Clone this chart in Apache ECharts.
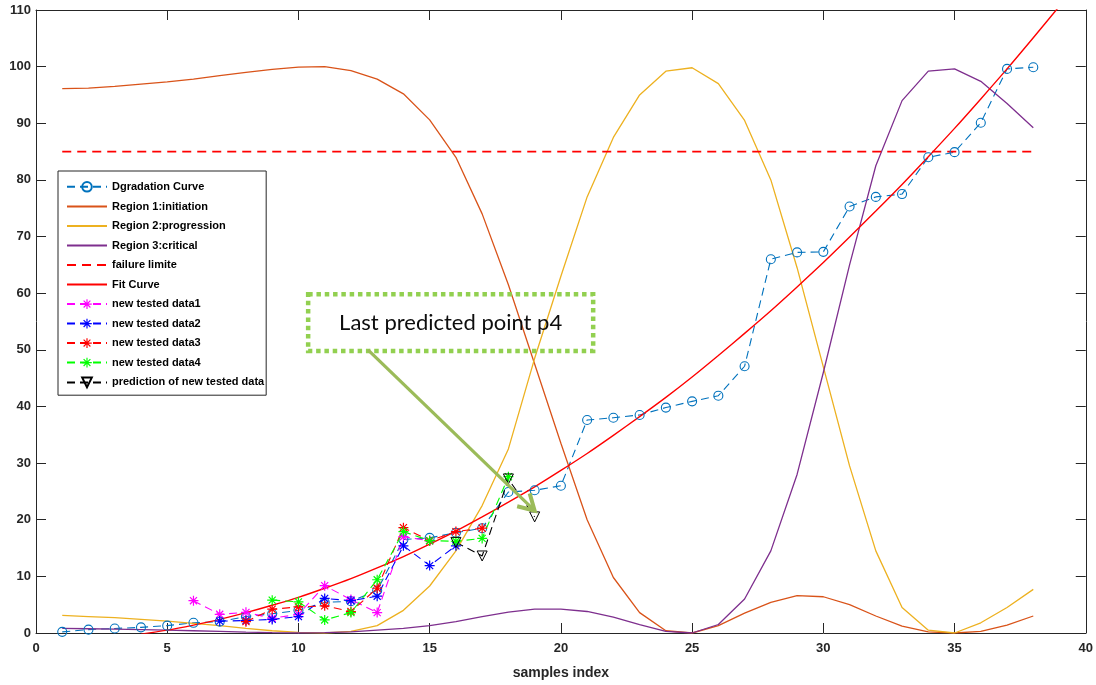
<!DOCTYPE html>
<html><head><meta charset="utf-8">
<script src="https://cdn.jsdelivr.net/npm/echarts@6/dist/echarts.min.js"></script>
<style>html,body{margin:0;padding:0;background:#fff}#c{width:1096px;height:685px}</style>
</head><body><div id="c"></div>
<script>
// ---------------- data ----------------
const sampleIndex = [1,2,3,4,5,6,7,8,9,10,11,12,13,14,15,16,17,18,19,20,21,22,23,24,25,26,27,28,29,30,31,32,33,34,35,36,37,38];
const degradation = [0.2,0.6,0.8,1.0,1.3,1.8,2.0,2.9,3.4,4.0,5.4,5.6,7.5,16.5,16.8,17.7,18.5,24.9,25.2,26.0,37.6,38.0,38.5,39.8,40.9,41.9,47.1,66.0,67.2,67.3,75.3,77.0,77.5,84.0,84.9,90.1,99.6,99.9];
const region1 = [96.1,96.2,96.5,96.9,97.3,97.8,98.4,99.0,99.5,99.9,100.0,99.3,97.8,95.2,90.6,84.0,74.0,61.5,47.5,33.5,20.0,9.8,3.6,0.4,0.0,1.3,3.5,5.4,6.6,6.4,5.0,3.0,1.2,0.2,0.0,0.3,1.4,3.0];
const region2 = [3.1,2.9,2.7,2.4,2.1,1.7,1.3,0.8,0.4,0.1,0.0,0.3,1.3,4.0,8.3,14.5,22.5,32.5,48.5,63.0,77.0,87.5,95.0,99.2,99.8,97.0,90.5,80.0,64.5,47.0,29.5,14.5,4.5,0.5,0.0,1.8,4.5,7.7];
const region3 = [0.8,0.75,0.7,0.6,0.5,0.4,0.3,0.15,0.05,0.0,0.05,0.2,0.5,0.8,1.3,2.0,2.9,3.7,4.2,4.2,3.8,2.8,1.5,0.3,0.0,1.5,6.0,14.5,28.0,46.0,65.0,82.5,94.0,99.2,99.6,97.4,93.5,89.2];
const failureLimit = 85;
const fitX = [4,5,6,7,8,9,10,11,12,13,14,15,16,17,18,19,20,21,22,23,24,25,26,27,28,29,30,31,32,33,34,35,36,37,38,39];
const fitCurve = [-0.2,0.5,1.4,2.4,3.6,4.9,6.3,7.9,9.6,11.5,13.5,15.7,18.0,20.5,23.1,25.8,28.7,31.7,34.9,38.2,41.6,45.2,49.0,52.9,56.9,61.1,65.4,69.9,74.5,79.2,84.1,89.1,94.3,99.6,105.1,110.7];
const data1X = [6,7,8,9,10,11,12,13,14,15];
const data1 = [5.7,3.3,3.65,2.6,3.3,8.35,5.9,3.6,17.0,16.3];
const data2X = [7,8,9,10,11,12,13,14,15,16];
const data2 = [2.1,2.2,2.4,2.9,6.1,5.7,6.5,15.4,11.9,15.4];
const data3X = [8,9,10,11,12,13,14,15,16,17];
const data3 = [2.0,4.2,4.6,4.8,3.8,7.9,18.6,16.3,17.9,18.5];
const data4X = [9,10,11,12,13,14,15,16,17,18];
const data4 = [5.8,5.5,2.3,3.6,9.4,17.9,16.3,16.2,16.7,27.6];
const predX = [16,17,18,19];
const prediction = [16.0,13.6,27.2,20.5];
const seriesNames = ['Dgradation Curve','Region 1:initiation','Region 2:progression','Region 3:critical','failure limite','Fit Curve','new tested data1','new tested data2','new tested data3','new tested data4','prediction of new tested data'];
const lineOnlyNames = ['Region 1:initiation','Region 2:progression','Region 3:critical','failure limite','Fit Curve'];
const noteText = 'Last predicted point p4';
// annotation placement in data units
const noteBox = {x0:10.37, y0:59.8, x1:21.23, y1:49.8};
const arrowFrom = [12.65, 50.0];
const arrowTo = [19.0, 21.6];

// ---------------- helpers ----------------
const pair = (xs, ys) => xs.map((x,i)=>[x, ys[i]]);
const STAR = 'path://M-0.6,-5L0.6,-5L0.6,5L-0.6,5Z M-5,-0.6L5,-0.6L5,0.6L-5,0.6Z M-3.1,-3.95L3.95,3.1L3.1,3.95L-3.95,-3.1Z M-3.1,3.95L-3.95,3.1L3.1,-3.95L3.95,-3.1Z';
const AX = '#262626';
const dash = [8,5];

function starSeries(name, xs, ys, color){
  return {name, type:'line', data:pair(xs,ys), symbol:STAR, symbolSize:10,
    itemStyle:{color, borderWidth:0}, lineStyle:{color, width:1.1, type:dash}, z:3};
}

const chart = echarts.init(document.getElementById('c'), null, {renderer:'canvas'});
const axisCommon = {
  axisLine:{show:true, onZero:false, lineStyle:{color:AX, width:1}},
  axisTick:{show:true, inside:true, length:10, lineStyle:{color:AX, width:1}},
  splitLine:{show:false}
};
const legendData = seriesNames.map(n => lineOnlyNames.includes(n) ? {name:n, itemStyle:{opacity:0}} : {name:n});
const option = {
  animation:false,
  backgroundColor:'#fff',
  grid:{left:36, right:9, top:10, bottom:52, containLabel:false},
  xAxis:[
    Object.assign({type:'value', min:0, max:40, interval:5, position:'bottom',
      name:'samples index', nameLocation:'middle', nameGap:33,
      nameTextStyle:{color:'#262626', fontFamily:'Liberation Sans', fontWeight:'bold', fontSize:14},
      axisLabel:{color:'#262626', fontFamily:'Liberation Sans', fontWeight:'bold', fontSize:13, margin:9}}, axisCommon),
    Object.assign({type:'value', min:0, max:40, interval:5, position:'top', axisLabel:{show:false}}, axisCommon)
  ],
  yAxis:[
    Object.assign({type:'value', min:0, max:110, interval:10, position:'left',
      axisLabel:{color:'#262626', fontFamily:'Liberation Sans', fontWeight:'bold', fontSize:13, margin:5}}, axisCommon),
    Object.assign({type:'value', min:0, max:110, interval:10, position:'right', axisLabel:{show:false}}, axisCommon)
  ],
  legend:{
    orient:'vertical', left:58, top:171,
    data:legendData,
    backgroundColor:'#fff', borderColor:AX, borderWidth:1, borderRadius:0,
    padding:[10,2,7,8], itemGap:8.5, itemWidth:40, itemHeight:12,
    textStyle:{color:'#000', fontFamily:'Liberation Sans', fontWeight:'bold', fontSize:11},
    selectedMode:false
  },
  series:[
    {name:seriesNames[0], type:'line', data:pair(sampleIndex, degradation), symbol:'circle', symbolSize:9,
      itemStyle:{color:'rgba(0,0,0,0)', borderColor:'#0072BD', borderWidth:1.1},
      lineStyle:{color:'#0072BD', width:1.1, type:dash}, z:2},
    {name:seriesNames[1], type:'line', data:pair(sampleIndex, region1), symbol:'none',
      itemStyle:{color:'#D95319'}, lineStyle:{color:'#D95319', width:1.3}, z:2},
    {name:seriesNames[2], type:'line', data:pair(sampleIndex, region2), symbol:'none',
      itemStyle:{color:'#EDB120'}, lineStyle:{color:'#EDB120', width:1.3}, z:2},
    {name:seriesNames[3], type:'line', data:pair(sampleIndex, region3), symbol:'none',
      itemStyle:{color:'#7E2F8E'}, lineStyle:{color:'#7E2F8E', width:1.3}, z:2},
    {name:seriesNames[4], type:'line', data:[[sampleIndex[0], failureLimit],[sampleIndex[sampleIndex.length-1], failureLimit]], symbol:'none',
      itemStyle:{color:'#FF0000'}, lineStyle:{color:'#FF0000', width:1.8, type:[9,6]}, z:2},
    {name:seriesNames[5], type:'line', data:pair(fitX, fitCurve), symbol:'none', clip:true, smooth:0.3,
      itemStyle:{color:'#FF0000'}, lineStyle:{color:'#FF0000', width:1.4}, z:2},
    starSeries(seriesNames[6], data1X, data1, '#FF00FF'),
    starSeries(seriesNames[7], data2X, data2, '#0000FF'),
    starSeries(seriesNames[8], data3X, data3, '#FF0000'),
    starSeries(seriesNames[9], data4X, data4, '#00FF00'),
    {name:seriesNames[10], type:'line', data:pair(predX, prediction), symbol:'triangle', symbolRotate:180, symbolSize:10,
      itemStyle:{color:'rgba(0,0,0,0)', borderColor:'#000', borderWidth:1},
      lineStyle:{color:'#000', width:1.1, type:dash}, z:3}
  ]
};
chart.setOption(option);

// annotation (text box + arrow) positioned in data space
const toPx = p => chart.convertToPixel({xAxisIndex:0, yAxisIndex:0}, p);
const b0 = toPx([noteBox.x0, noteBox.y0]);
const b1 = toPx([noteBox.x1, noteBox.y1]);
const a0 = toPx(arrowFrom);
const a1 = toPx(arrowTo);
const dx = a1[0]-a0[0], dy = a1[1]-a0[1];
const ang = Math.atan2(-dy, -dx);
const headLen = 18, spread = Math.PI/6;
const h1 = [a1[0] + headLen*Math.cos(ang+spread), a1[1] + headLen*Math.sin(ang+spread)];
const h2 = [a1[0] + headLen*Math.cos(ang-spread), a1[1] + headLen*Math.sin(ang-spread)];
chart.setOption({graphic:[
  {type:'rect', shape:{x:b0[0], y:b0[1], width:b1[0]-b0[0], height:b1[1]-b0[1]}, z:100,
    style:{fill:null, stroke:'#92D050', lineWidth:4.5, lineDash:[4.5,3.8]}},
  {type:'text', x:(b0[0]+b1[0])/2, y:(b0[1]+b1[1])/2, z:101,
    style:{text:noteText, fill:'#0d0d0d', font:'22px Lato', align:'center', verticalAlign:'middle'}},
  {type:'line', shape:{x1:a0[0], y1:a0[1], x2:a1[0], y2:a1[1]}, z:100,
    style:{stroke:'#9BBB59', lineWidth:3.2, lineCap:'butt'}},
  {type:'polyline', shape:{points:[h1, a1, h2]}, z:100,
    style:{stroke:'#9BBB59', lineWidth:4, fill:null, lineJoin:'miter', lineCap:'butt'}}
]});
</script></body></html>
